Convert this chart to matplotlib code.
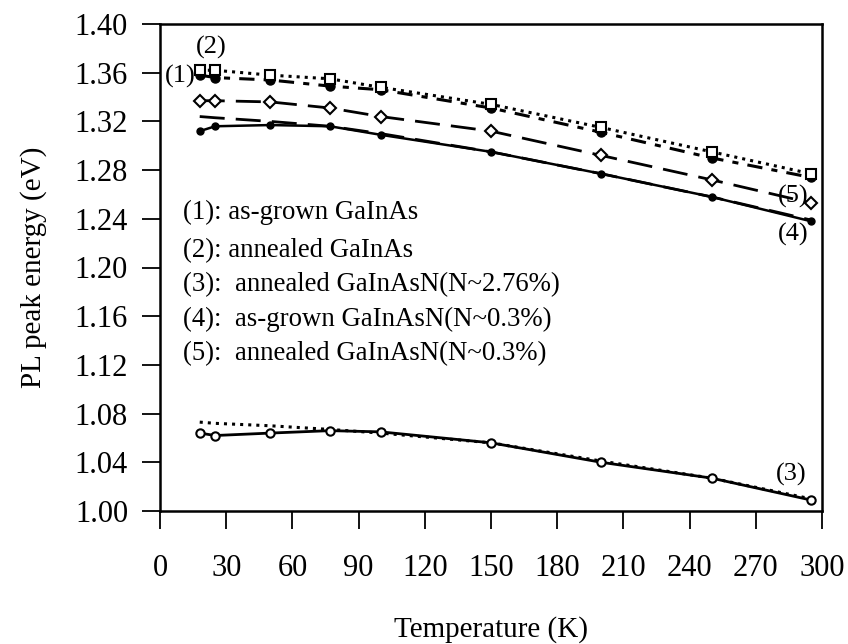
import matplotlib
matplotlib.use("Agg")
import matplotlib.pyplot as plt

plt.rcParams['font.family'] = ['Liberation Serif', 'DejaVu Serif']

# temperatures (K) and PL peak energies (eV)
temps = [18, 25, 50, 77, 100, 150, 200, 250, 295]
e1 = [1.358, 1.356, 1.354, 1.349, 1.346, 1.331, 1.311, 1.290, 1.274]  # as-grown GaInAs
e2 = [1.362, 1.362, 1.358, 1.355, 1.348, 1.334, 1.315, 1.295, 1.277]  # annealed GaInAs
e3 = [1.064, 1.062, 1.064, 1.066, 1.065, 1.056, 1.040, 1.027, 1.009]  # annealed GaInAsN 2.76%
e4 = [1.312, 1.316, 1.317, 1.316, 1.309, 1.295, 1.277, 1.258, 1.238]  # as-grown GaInAsN 0.3%
e5 = [1.337, 1.337, 1.336, 1.331, 1.324, 1.312, 1.292, 1.272, 1.253]  # annealed GaInAsN 0.3%
fit3 = [1.073, 1.072, 1.070, 1.067, 1.064, 1.056, 1.041, 1.027, 1.010]
fit4 = [1.324, 1.323, 1.320, 1.316, 1.310, 1.295, 1.277, 1.258, 1.239]

legend_lines = ["(1): as-grown GaInAs",
                "(2): annealed GaInAs",
                "(3):  annealed GaInAsN(N~2.76%)",
                "(4):  as-grown GaInAsN(N~0.3%)",
                "(5):  annealed GaInAsN(N~0.3%)"]
legend_y = [1.245, 1.214, 1.186, 1.157, 1.129]

fig = plt.figure(figsize=(8.48, 6.44), dpi=100)
ax = fig.add_axes([160/848, 1-511/644, 662/848, 487/644])

# (1) and (2): fit lines dotted / dash-dot, markers on top
ax.plot(temps, e1, color='black', lw=2.2, dashes=(5, 3, 2, 3))
ax.plot(temps, e2, color='black', lw=2.2, linestyle=':')
ax.plot(temps, e1, 'o', color='black', ms=6.5, ls='none')
ax.plot(temps, e2, 's', mfc='white', mec='black', mew=1.5, ms=6.5, ls='none')

# (5) long dashes with open diamonds
ax.plot(temps, e5, color='black', lw=2, dashes=(9, 4), marker='D',
        mfc='white', mec='black', mew=1.5, ms=6.5)

# (4) solid with small filled circles, plus a dashed fit
ax.plot(temps, fit4, color='black', lw=2, dashes=(9, 4))
ax.plot(temps, e4, color='black', lw=1.8, marker='o', ms=5)

# (3) solid with open circles, dotted fit
ax.plot(temps, fit3, color='black', lw=2.2, linestyle=':')
ax.plot(temps, e3, color='black', lw=2, marker='o', mfc='white',
        mec='black', mew=1.5, ms=6)

ax.set_xlim(0, 300)
ax.set_ylim(1.00, 1.40)
ax.set_xticks(range(0, 301, 30))
ax.set_yticks([1.00 + 0.04 * i for i in range(11)])
ax.set_yticklabels(['%.2f' % (1.00 + 0.04 * i) for i in range(11)])

for s in ax.spines.values():
    s.set_linewidth(1.8)
ax.tick_params(direction='out', length=13, width=1.3, labelsize=22)
ax.tick_params(axis='x', pad=18)
ax.tick_params(axis='y', pad=10)

ax.set_xlabel('Temperature (K)', fontsize=21, labelpad=24)
ax.set_ylabel('PL peak energy (eV)', fontsize=21, labelpad=20)

for txt, y in zip(legend_lines, legend_y):
    ax.text(10.4, y, txt, fontsize=19.3, ha='left', va='center')

ax.text(23, 1.381, '(2)', fontsize=19, ha='center', va='center')
ax.text(9, 1.357, '(1)', fontsize=19, ha='center', va='center')
ax.text(287, 1.258, '(5)', fontsize=19, ha='center', va='center')
ax.text(287, 1.2275, '(4)', fontsize=19, ha='center', va='center')
ax.text(286, 1.030, '(3)', fontsize=19, ha='center', va='center')

fig.savefig('out.png', dpi=100)
